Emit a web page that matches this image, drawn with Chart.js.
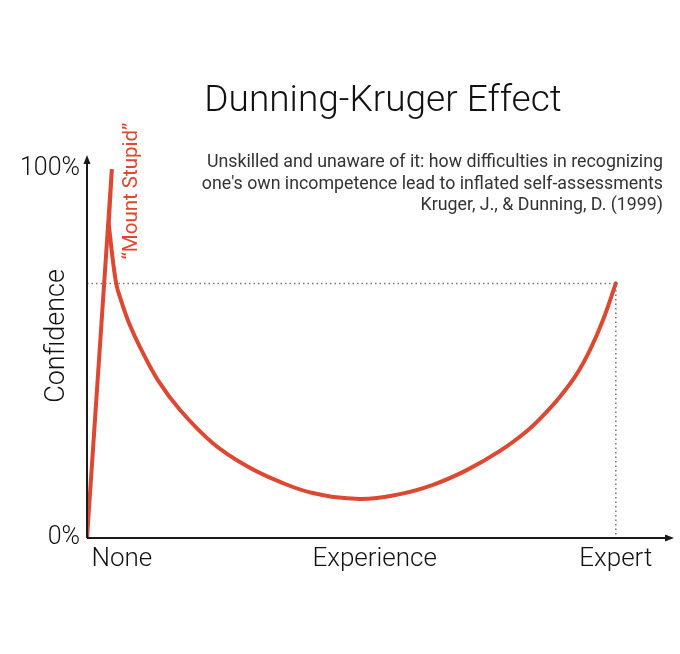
<!DOCTYPE html>
<html>
<head>
<meta charset="utf-8">
<script src="https://cdn.jsdelivr.net/npm/chart.js@4"></script>
<style>
  html, body { margin: 0; padding: 0; background: #fff; }
  #wrap { width: 680px; height: 654px; }
</style>
</head>
<body>
<div id="wrap"><canvas id="myChart" width="680" height="654"></canvas></div>
<script>
// curve (x = experience 0..100, y = confidence %)
// rise goes up to the peak and falls back along itself a little
const riseX = [0, 4.7, 4.1];
const riseY = [0, 100, 85];
const fallX = [4.1, 5.5, 6.6, 8.1, 10.0, 13.4, 17.6, 23.8, 30.2, 36.5, 42.7, 51.6, 59.2, 65.4, 71.8, 78.1, 83.2, 86.2, 89.4, 92.6, 95.1, 97.5, 100];
const fallY = [85, 69.1, 63.7, 57.7, 51.8, 42.8, 34.7, 25.7, 19.5, 15.2, 12.2, 10.6, 11.9, 14.4, 18.4, 23.6, 29.0, 33.1, 38.2, 44.4, 50.9, 58.8, 69];
// dotted guide to the expert point
const guideX = [0, 100, 100];
const guideY = [69, 69, 0];

const xTickPos = [6.6, 54.4, 100];
const xTickLabels = ['None', 'Experience', 'Expert'];
const yTickPos = [0, 100];
const yTickLabels = ['0%', '100%'];

const titleText = 'Dunning-Kruger Effect';
const subText = [
  'Unskilled and unaware of it: how difficulties in recognizing',
  "one's own incompetence lead to inflated self-assessments",
  'Kruger, J., & Dunning, D. (1999)'
];

const red = 'rgb(220, 72, 50)';
const fontName = 'Roboto, "Liberation Sans", sans-serif';

function toPts(xs, ys) {
  return xs.map(function (x, i) { return { x: x, y: ys[i] }; });
}

// axes with arrow heads and the loose texts
const extras = {
  id: 'extras',
  afterDraw: function (chart) {
    const c = chart.ctx;
    const a = chart.chartArea;
    const x0 = chart.scales.x.getPixelForValue(0);
    const y0 = chart.scales.y.getPixelForValue(0);
    c.save();
    c.strokeStyle = '#1a1a1a';
    c.fillStyle = '#1a1a1a';
    c.lineWidth = 2;
    c.beginPath();
    c.moveTo(x0, y0);
    c.lineTo(x0, a.top + 4);
    c.moveTo(x0, y0);
    c.lineTo(a.right - 4, y0);
    c.stroke();
    c.beginPath();
    c.moveTo(x0, a.top);
    c.lineTo(x0 - 3.5, a.top + 9);
    c.lineTo(x0 + 3.5, a.top + 9);
    c.closePath();
    c.fill();
    c.beginPath();
    c.moveTo(a.right, y0);
    c.lineTo(a.right - 9, y0 - 3.5);
    c.lineTo(a.right - 9, y0 + 3.5);
    c.closePath();
    c.fill();

    c.fillStyle = '#111';
    c.textBaseline = 'middle';
    c.textAlign = 'center';
    c.font = '300 37px ' + fontName;
    c.fillText(titleText, 383, 102);

    c.textAlign = 'right';
    c.font = '400 17.8px ' + fontName;
    c.fillStyle = '#333';
    c.fillText(subText[0], 663, 163);
    c.fillText(subText[1], 663, 185);
    c.fillText(subText[2], 663, 206);

    c.save();
    c.translate(57, 336);
    c.rotate(-Math.PI / 2);
    c.textAlign = 'center';
    c.fillStyle = '#111';
    c.font = '300 27px ' + fontName;
    c.fillText('Confidence', 0, 0);
    c.restore();

    c.save();
    c.translate(132, 191);
    c.rotate(-Math.PI / 2);
    c.textAlign = 'center';
    c.fillStyle = red;
    c.font = '400 20.5px ' + fontName;
    c.fillText('\u201CMount Stupid\u201D', 0, 0);
    c.restore();
    c.restore();
  }
};

const ctx = document.getElementById('myChart').getContext('2d');
const myChart = new Chart(ctx, {
  type: 'line',
  data: {
    datasets: [{
      data: toPts(guideX, guideY),
      borderColor: '#777',
      borderWidth: 1.5,
      borderDash: [1.5, 3],
      pointRadius: 0,
      tension: 0
    }, {
      data: toPts(riseX, riseY),
      borderColor: red,
      borderWidth: 4,
      pointRadius: 0,
      tension: 0
    }, {
      data: toPts(fallX, fallY),
      borderColor: red,
      borderWidth: 4,
      pointRadius: 0,
      tension: 0.4,
      borderCapStyle: 'round'
    }]
  },
  plugins: [extras],
  options: {
    responsive: false,
    animation: false,
    devicePixelRatio: 1,
    layout: { padding: { top: 155, right: 6, left: 0, bottom: 0 } },
    plugins: { legend: { display: false }, tooltip: { enabled: false } },
    scales: {
      x: {
        type: 'linear',
        min: 0,
        max: 111,
        grid: { display: false, drawTicks: false },
        border: { display: false },
        afterBuildTicks: function (scale) {
          scale.ticks = xTickPos.map(function (v) { return { value: v }; });
        },
        afterFit: function (scale) { scale.height = 116; },
        ticks: {
          autoSkip: false,
          maxRotation: 0,
          padding: 6,
          color: '#111',
          font: { family: fontName, size: 26, weight: '300' },
          callback: function (v, i) { return xTickLabels[i]; }
        }
      },
      y: {
        type: 'linear',
        min: 0,
        max: 103.8,
        grid: { display: false, drawTicks: false },
        border: { display: false },
        afterBuildTicks: function (scale) {
          scale.ticks = yTickPos.map(function (v) { return { value: v }; });
        },
        afterFit: function (scale) { scale.width = 87; },
        ticks: {
          autoSkip: false,
          padding: 7,
          color: '#111',
          font: { family: fontName, size: 25, weight: '300' },
          callback: function (v, i) { return yTickLabels[i]; }
        }
      }
    }
  }
});
</script>
</body>
</html>
